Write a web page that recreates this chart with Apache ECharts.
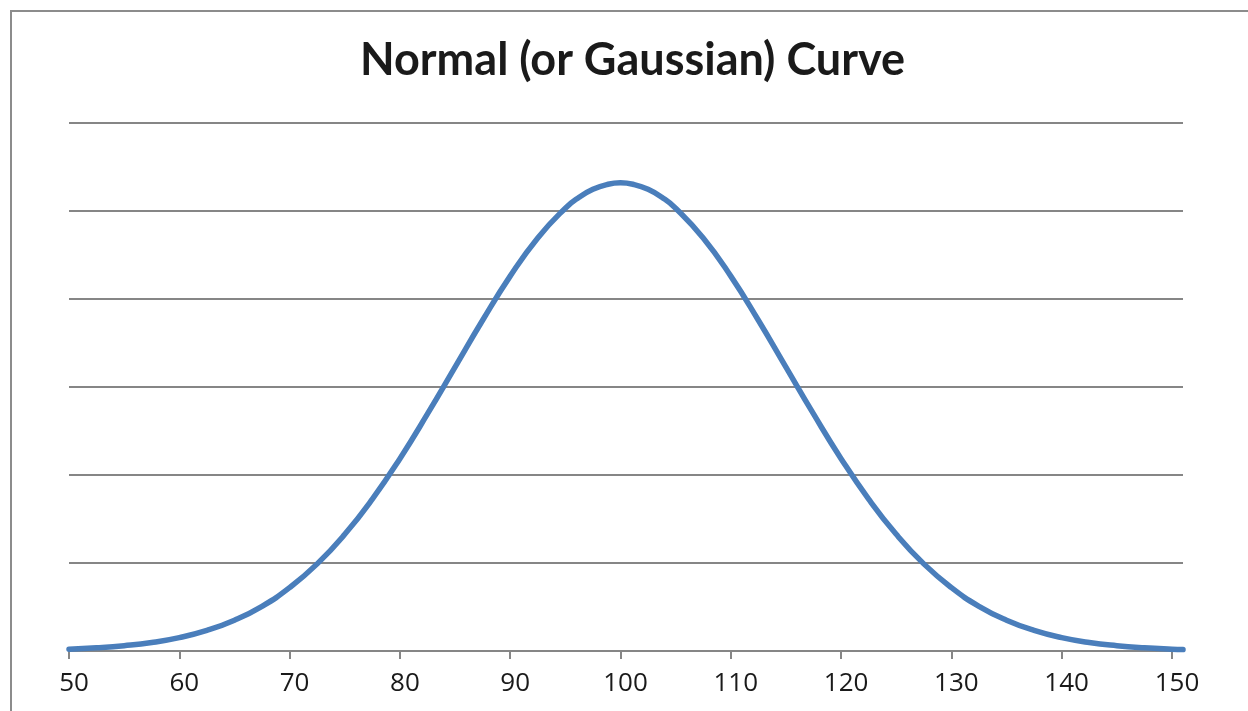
<!DOCTYPE html>
<html lang="en">
<head>
    <meta charset="UTF-8">
    <script src="https://cdn.jsdelivr.net/npm/echarts@6/dist/echarts.min.js"></script>
    <title>Normal (or Gaussian) Curve</title>
    <style>
        html, body { margin: 0; padding: 0; background: #fff; }
    </style>
</head>
<body>
<div id="main" style="width: 1248px;height:711px;"></div>
<script type="text/javascript">
    var myChart = echarts.init(document.getElementById('main'));

    // x values (step 2.5, finer near the peak, last point just past 150)
    var xValues = [50, 52.5, 55, 57.5, 60, 62.5, 65, 67.5, 70, 72.5,
                   75, 77.5, 80, 82.5, 85, 87.5, 90, 92.5, 95, 96.25, 97.5, 98.75,
                   100, 101.25, 102.5, 103.75, 105, 107.5, 110, 112.5, 115, 117.5, 120, 122.5,
                   125, 127.5, 130, 132.5, 135, 137.5, 140, 142.5, 145, 147.5,
                   150, 151];
    // curve height at each x
    var yValues = [0.00010, 0.00018, 0.00030, 0.00048, 0.00076, 0.00117, 0.00175, 0.00254, 0.00360, 0.00495,
                   0.00663, 0.00863, 0.01093, 0.01347, 0.01613, 0.01879, 0.02130, 0.02347, 0.02516, 0.02578, 0.02623, 0.02650,
                   0.02660, 0.02650, 0.02623, 0.02578, 0.02516, 0.02347, 0.02130, 0.01879, 0.01613, 0.01347, 0.01093, 0.00863,
                   0.00663, 0.00495, 0.00360, 0.00254, 0.00175, 0.00117, 0.00076, 0.00048, 0.00030, 0.00018,
                   0.00010, 0.00008];
    var xTicks = [50, 60, 70, 80, 90, 100, 110, 120, 130, 140, 150];

    var points = xValues.map(function (x, i) { return [x, yValues[i]]; });

    var option = {
        animation: false,
        title: {
            text: 'Normal (or Gaussian) Curve',
            left: 360,
            top: 38,
            padding: 0,
            textStyle: {
                fontFamily: 'Lato',
                fontWeight: 'bold',
                fontSize: 45,
                color: '#1a1a1a'
            }
        },
        // outer chart frame
        graphic: [{
            type: 'rect',
            shape: { x: 11, y: 11, width: 1260, height: 720 },
            style: { fill: 'none', stroke: '#8c8c8c', lineWidth: 2 },
            silent: true
        }],
        grid: {
            left: 69,
            right: 65,
            top: 123,
            bottom: 60
        },
        xAxis: {
            type: 'value',
            min: 50,
            max: 151,
            interval: 10,
            splitLine: { show: false },
            axisLine: { lineStyle: { color: '#868686', width: 2 } },
            axisLabel: {
                margin: 20,
                padding: [0, 0, 0, 10],
                fontFamily: 'Open Sans',
                fontSize: 26,
                color: '#1a1a1a',
                customValues: xTicks
            },
            axisTick: { show: true, length: 8, customValues: xTicks, lineStyle: { color: '#868686', width: 2 } }
        },
        yAxis: {
            type: 'value',
            min: 0,
            max: 0.03,
            interval: 0.005,
            axisLine: { show: false },
            axisTick: { show: false },
            axisLabel: { show: false },
            splitLine: { lineStyle: { color: '#868686', width: 2 } }
        },
        series: [{
            type: 'line',
            data: points,
            smooth: true,
            showSymbol: false,
            lineStyle: { color: '#4a7ebb', width: 5.5, cap: 'round' }
        }]
    };

    myChart.setOption(option);
</script>
</body>
</html>
